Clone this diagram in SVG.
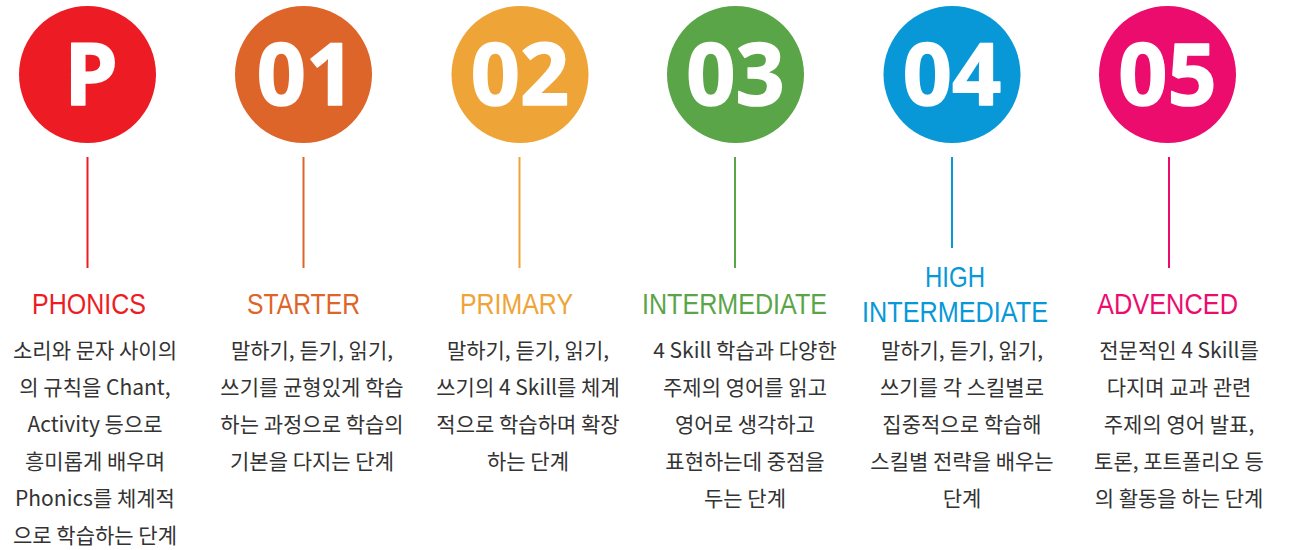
<svg xmlns="http://www.w3.org/2000/svg" width="1290" height="550" viewBox="0 0 1290 550">
<style>
.num{font-family:"Open Sans","Noto Sans",sans-serif;font-weight:700;font-size:86px;fill:#fff;text-anchor:middle;stroke:#fff;stroke-width:1.5;stroke-linejoin:round}
.hd{font-family:"Liberation Sans",Arial,sans-serif;font-size:29px;text-anchor:middle}
.bd{font-family:"Noto Sans CJK KR","Noto Sans",sans-serif;font-size:21px;fill:#333;text-anchor:middle}
.ln{stroke-width:2}
</style>
<rect width="1290" height="550" fill="#fff"/>
<g id="connectors">
<line class="ln" x1="87.5" y1="157" x2="87.5" y2="268" stroke="#ED1C24"/>
<line class="ln" x1="303.5" y1="157" x2="303.5" y2="268" stroke="#DE6529"/>
<line class="ln" x1="519.5" y1="157" x2="519.5" y2="268" stroke="#EEA437"/>
<line class="ln" x1="735" y1="157" x2="735" y2="268" stroke="#5AA548"/>
<line class="ln" x1="952" y1="157" x2="952" y2="248" stroke="#0898D7"/>
<line class="ln" x1="1169" y1="157" x2="1169" y2="268" stroke="#EC0C6E"/>
</g>
<g id="node-p">
<circle cx="87.5" cy="74.5" r="68.5" fill="#ED1C24"/>
<text class="num" x="91" y="105">P</text>
<text class="hd" x="89" y="314" fill="#ED1C24" textLength="114" lengthAdjust="spacingAndGlyphs">PHONICS</text>
<text class="bd" x="95" y="358">소리와 문자 사이의</text>
<text class="bd" x="95" y="395">의 규칙을 Chant,</text>
<text class="bd" x="95" y="432">Activity 등으로</text>
<text class="bd" x="95" y="469">흥미롭게 배우며</text>
<text class="bd" x="95" y="506">Phonics를 체계적</text>
<text class="bd" x="95" y="543">으로 학습하는 단계</text>
</g>
<g id="node-01">
<circle cx="303.5" cy="74.5" r="68.5" fill="#DE6529"/>
<text class="num" x="306" y="105">01</text>
<text class="hd" x="303.5" y="314" fill="#DE6529" textLength="113" lengthAdjust="spacingAndGlyphs">STARTER</text>
<text class="bd" x="312" y="358">말하기, 듣기, 읽기,</text>
<text class="bd" x="312" y="395">쓰기를 균형있게 학습</text>
<text class="bd" x="312" y="432">하는 과정으로 학습의</text>
<text class="bd" x="312" y="469">기본을 다지는 단계</text>
</g>
<g id="node-02">
<circle cx="520" cy="74.5" r="68.5" fill="#EEA437"/>
<text class="num" x="520" y="105">02</text>
<text class="hd" x="516.5" y="314" fill="#EEA437" textLength="113" lengthAdjust="spacingAndGlyphs">PRIMARY</text>
<text class="bd" x="528" y="358">말하기, 듣기, 읽기,</text>
<text class="bd" x="528" y="395">쓰기의 4 Skill를 체계</text>
<text class="bd" x="528" y="432">적으로 학습하며 확장</text>
<text class="bd" x="528" y="469">하는 단계</text>
</g>
<g id="node-03">
<circle cx="735.5" cy="74.5" r="68.5" fill="#5AA548"/>
<text class="num" x="735.5" y="105">03</text>
<text class="hd" x="734.5" y="314" fill="#5AA548" textLength="185" lengthAdjust="spacingAndGlyphs">INTERMEDIATE</text>
<text class="bd" x="745" y="358">4 Skill 학습과 다양한</text>
<text class="bd" x="745" y="395">주제의 영어를 읽고</text>
<text class="bd" x="745" y="432">영어로 생각하고</text>
<text class="bd" x="745" y="469">표현하는데 중점을</text>
<text class="bd" x="745" y="506">두는 단계</text>
</g>
<g id="node-04">
<circle cx="952" cy="74.5" r="68.5" fill="#0898D7"/>
<text class="num" x="952" y="105">04</text>
<text class="hd" x="955" y="287" fill="#0898D7" textLength="60" lengthAdjust="spacingAndGlyphs">HIGH</text>
<text class="hd" x="955" y="322" fill="#0898D7" textLength="186" lengthAdjust="spacingAndGlyphs">INTERMEDIATE</text>
<text class="bd" x="962" y="358">말하기, 듣기, 읽기,</text>
<text class="bd" x="962" y="395">쓰기를 각 스킬별로</text>
<text class="bd" x="962" y="432">집중적으로 학습해</text>
<text class="bd" x="962" y="469">스킬별 전략을 배우는</text>
<text class="bd" x="962" y="506">단계</text>
</g>
<g id="node-05">
<circle cx="1167.5" cy="74.5" r="68.5" fill="#EC0C6E"/>
<text class="num" x="1167.5" y="105">05</text>
<text class="hd" x="1167.5" y="314" fill="#EC0C6E" textLength="141" lengthAdjust="spacingAndGlyphs">ADVENCED</text>
<text class="bd" x="1179" y="358">전문적인 4 Skill를</text>
<text class="bd" x="1179" y="395">다지며 교과 관련</text>
<text class="bd" x="1179" y="432">주제의 영어 발표,</text>
<text class="bd" x="1179" y="469">토론, 포트폴리오 등</text>
<text class="bd" x="1179" y="506">의 활동을 하는 단계</text>
</g>
</svg>
